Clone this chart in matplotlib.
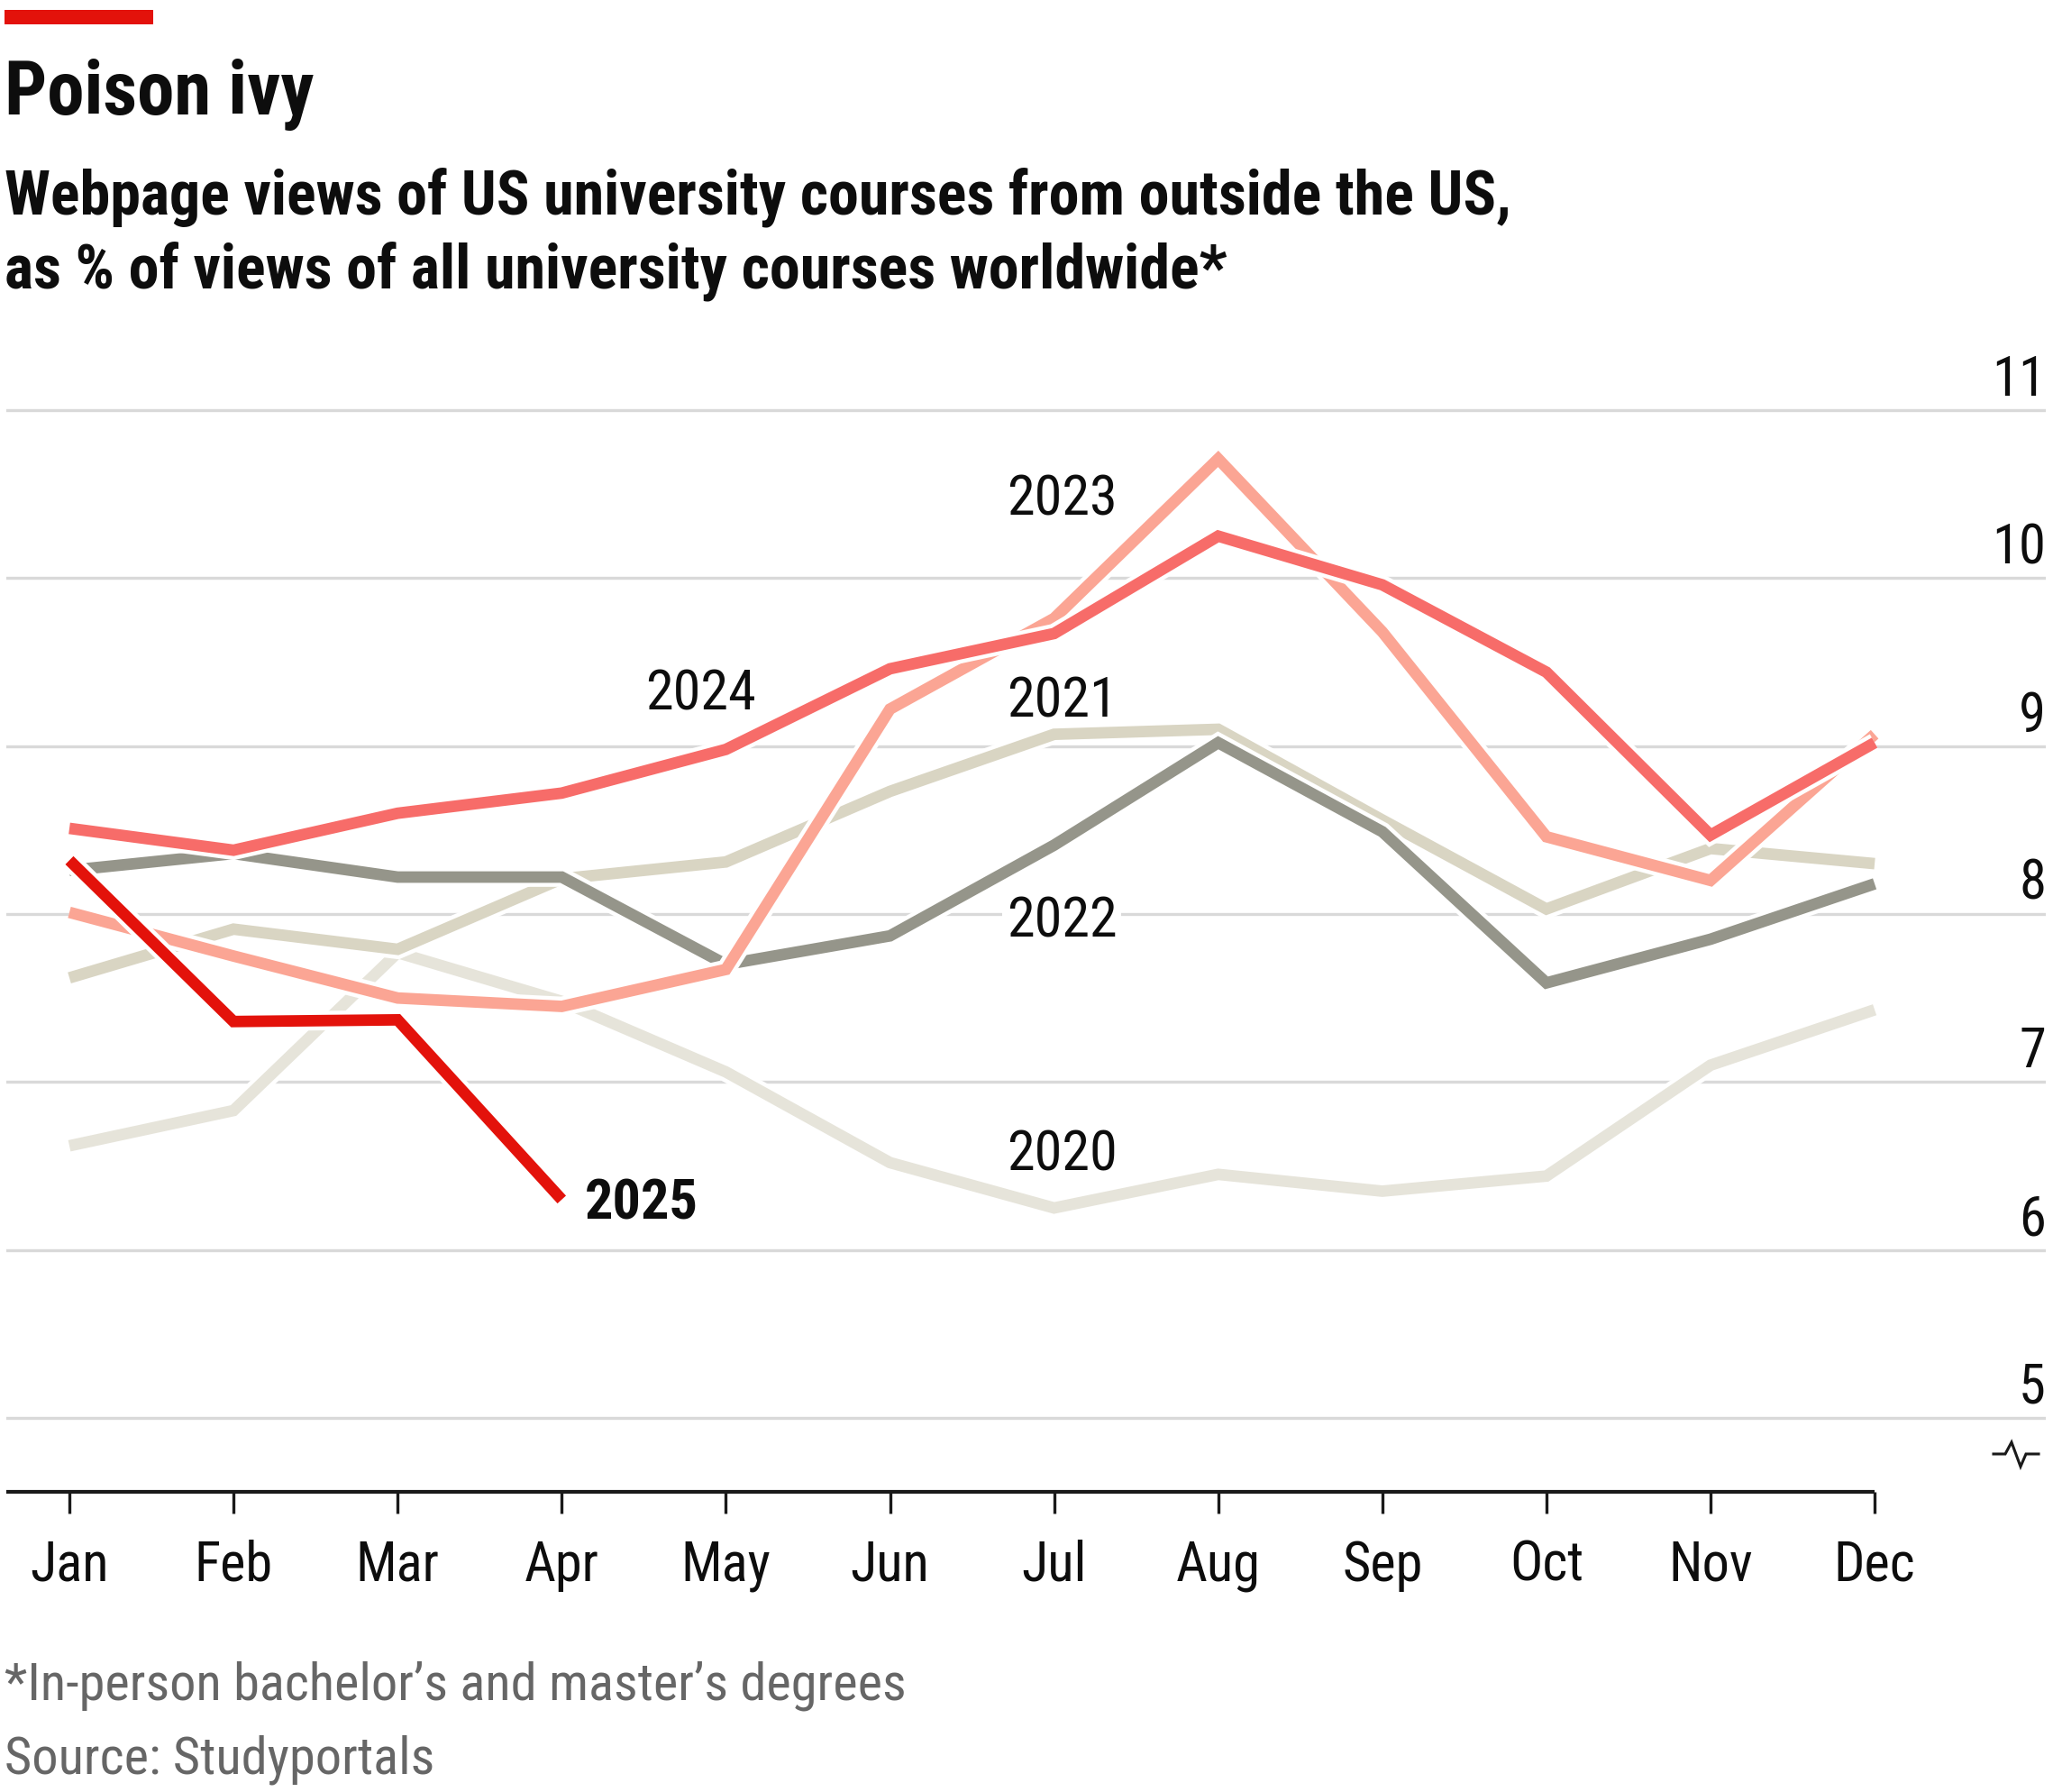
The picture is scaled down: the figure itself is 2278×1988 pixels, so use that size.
import matplotlib
matplotlib.use("Agg")
import matplotlib.pyplot as plt
import matplotlib.patheffects as pe
from matplotlib import font_manager
from matplotlib.lines import Line2D

# --- data (% of worldwide views) ---
months = ["Jan", "Feb", "Mar", "Apr", "May", "Jun",
          "Jul", "Aug", "Sep", "Oct", "Nov", "Dec"]
years = ["2020", "2021", "2022", "2023", "2024", "2025"]
v2020 = [6.62, 6.83, 7.77, 7.48, 7.06, 6.52, 6.25, 6.45, 6.35, 6.44, 7.10, 7.43]
v2021 = [7.62, 7.91, 7.79, 8.21, 8.31, 8.73, 9.07, 9.10, 8.56, 8.03, 8.39, 8.30]
v2022 = [8.26, 8.36, 8.22, 8.22, 7.70, 7.87, 8.41, 9.02, 8.49, 7.59, 7.85, 8.18]
v2023 = [8.01, 7.75, 7.50, 7.45, 7.67, 9.22, 9.76, 10.71, 9.68, 8.46, 8.20, 9.07]
v2024 = [8.51, 8.38, 8.60, 8.72, 8.98, 9.46, 9.67, 10.25, 9.96, 9.44, 8.47, 9.02]
v2025 = [8.32, 7.36, 7.37, 6.30]
series = [v2020, v2021, v2022, v2023, v2024, v2025]
yticks = [5, 6, 7, 8, 9, 10, 11]

colors = ["#E6E4DA", "#D9D5C3", "#95958A", "#FBA594", "#F76C69", "#E3120B"]
# label anchor (month index, baseline value)
label_x = [5.71, 5.71, 5.71, 5.71, 3.51, 3.14]
label_y = [6.475, 9.175, 7.865, 10.375, 9.215, 6.185]

# --- fonts: a narrow grotesque if there is one ---
names = {f.name for f in font_manager.fontManager.ttflist}
STRETCH = "normal"
for cand in ["Roboto Condensed", "Archivo Narrow", "Liberation Sans Narrow"]:
    if cand in names:
        FONT = cand
        break
else:
    FONT = "DejaVu Sans"
    STRETCH = "condensed"
plt.rcParams["font.family"] = [FONT, "DejaVu Sans"]
plt.rcParams["font.stretch"] = STRETCH

W, H, DPI = 2278, 1988, 200
fig = plt.figure(figsize=(W / DPI, H / DPI), dpi=DPI)


def fx(px):
    return px / W


def fy(py):
    return 1 - py / H


# axes placement (pixels)
y_top, y_bot = 11.05, 4.56
ax_top = 455 - (y_top - 11) * 186.5
ax_bot = 1655
ax_left, ax_right = 7, 2270
jan_px, step_px = 77, 182.1
ax = fig.add_axes([fx(ax_left), fy(ax_bot), fx(ax_right - ax_left), (ax_bot - ax_top) / H])

x_left = -(jan_px - ax_left) / step_px
x_right = (ax_right - jan_px) / step_px
ax.set_xlim(x_left, x_right)
ax.set_ylim(y_bot, y_top)

for s in ax.spines.values():
    s.set_visible(False)

ax.set_yticks(yticks)
ax.yaxis.grid(True, color="#D9D9D9", linewidth=1.2, zorder=0)
ax.tick_params(axis="y", length=0, labelleft=False)
ax.set_xticks(range(len(months)))
ax.tick_params(axis="x", length=8.6, width=1.2, color="#1A1A1A", labelbottom=False)

ax.hlines(y_bot, x_left, len(months) - 1, color="#1A1A1A", linewidth=1.5,
          clip_on=False, zorder=5)

lw = 4.6
for i, vals in enumerate(series):
    ax.plot(range(len(vals)), vals, color=colors[i], linewidth=lw,
            solid_joinstyle="miter", solid_capstyle="butt", zorder=3 + i,
            path_effects=[pe.Stroke(linewidth=lw + 3.2, foreground="white"), pe.Normal()])

LBL = 21.8
for i, yr in enumerate(years):
    ax.text(label_x[i], label_y[i], yr, fontsize=LBL + 0.6, ha="left", va="baseline",
            color="#0D0D0D", fontweight="bold" if yr == "2025" else "normal",
            zorder=2.5,
            bbox=dict(facecolor="white", edgecolor="none", pad=1.5))

# y labels above gridlines, right aligned
for v in yticks:
    ax.annotate(str(v), xy=(1, v), xycoords=("axes fraction", "data"),
                xytext=(0, 5.8), textcoords="offset points",
                ha="right", va="baseline", fontsize=LBL, color="#0D0D0D")

# month labels
for i, m in enumerate(months):
    ax.annotate(m, xy=(i, 0), xycoords=("data", "axes fraction"),
                xytext=(0, -35.6), textcoords="offset points",
                ha="center", va="baseline", fontsize=LBL, color="#0D0D0D",
                annotation_clip=False)

# axis break marker
bx = [2212, 2225, 2232, 2242, 2248, 2262]
by = [1613, 1613, 1600, 1627, 1613, 1613]
fig.add_artist(Line2D([fx(x) for x in bx], [fy(y) for y in by],
                      color="#1A1A1A", linewidth=1.1, solid_joinstyle="miter"))

# header
fig.add_artist(plt.Rectangle((fx(5), fy(27)), fx(165), 16 / H,
                             facecolor="#E3120B", edgecolor="none"))
fig.text(fx(5), fy(127), "Poison ivy", fontsize=29.9, fontweight="bold",
         ha="left", va="baseline", color="#0D0D0D")
fig.text(fx(5), fy(238), "Webpage views of US university courses from outside the US,",
         fontsize=24.5, fontweight="bold", ha="left", va="baseline", color="#0D0D0D")
fig.text(fx(5), fy(320), "as % of views of all university courses worldwide*",
         fontsize=24.5, fontweight="bold", ha="left", va="baseline", color="#0D0D0D")

# footer
fig.text(fx(5), fy(1885), "*In-person bachelor\u2019s and master\u2019s degrees",
         fontsize=21, ha="left", va="baseline", color="#666666")
fig.text(fx(5), fy(1967), "Source: Studyportals",
         fontsize=21, ha="left", va="baseline", color="#666666")

fig.savefig("out.png", dpi=DPI, facecolor="white")
